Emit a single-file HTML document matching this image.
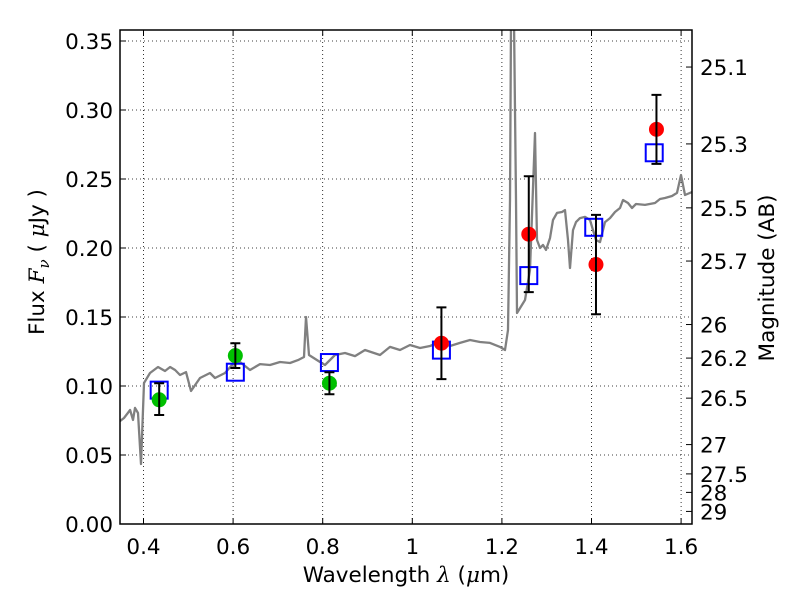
<!DOCTYPE html>
<html><head><meta charset="utf-8"><style>
body{margin:0;background:#fff;}
svg text{font-family:"DejaVu Sans","Liberation Sans",sans-serif;}
.m{font-family:"DejaVu Serif","Liberation Serif",serif;font-style:italic;}
</style></head><body>
<svg id="chart" width="800" height="600" xmlns="http://www.w3.org/2000/svg">
<defs><clipPath id="clip"><rect x="120" y="30" width="572" height="494"/></clipPath></defs>
<rect width="800" height="600" fill="#fff"/>
<g id="grid"></g>
<g id="spec" clip-path="url(#clip)"></g>
<g id="pts"></g>
<rect x="120" y="30" width="572" height="494" fill="none" stroke="#000" stroke-width="1.5"/>
<g id="axes"></g>
<text x="406" y="582" font-size="21.5" text-anchor="middle">Wavelength  <tspan class="m">λ</tspan> (<tspan class="m">μ</tspan>m)</text>
<text transform="translate(44,262) rotate(-90)" font-size="21.5" text-anchor="middle">Flux  <tspan class="m">F</tspan><tspan class="m" font-size="15" dy="5">ν</tspan><tspan dy="-5">  ( </tspan><tspan class="m">μ</tspan>Jy )</text>
<text transform="translate(774,278) rotate(-90)" font-size="21.5" text-anchor="middle">Magnitude (AB)</text>
</svg>
<script>
const specLam=[0.3475,0.3565,0.370,0.3766,0.381,0.3877,0.3944,0.4011,0.4145,0.4324,0.448,0.4594,0.4705,0.4815,0.4949,0.506,0.5261,0.5484,0.5596,0.582,0.5975,0.6154,0.6377,0.66,0.6824,0.7047,0.727,0.7449,0.7583,0.7627,0.7694,0.794,0.8051,0.8275,0.8498,0.8721,0.8944,0.9279,0.9502,0.9725,0.9949,1.0172,1.0395,1.0618,1.0842,1.1065,1.1288,1.1511,1.1734,1.1958,1.2069,1.2136,1.2181,1.2203,1.227,1.2315,1.2338,1.2516,1.2628,1.2739,1.2784,1.2851,1.2918,1.2985,1.3074,1.3141,1.323,1.3342,1.3408,1.3475,1.352,1.3587,1.3654,1.3743,1.3855,1.3967,1.4034,1.41,1.419,1.4301,1.4413,1.4525,1.4637,1.4704,1.4815,1.4904,1.4993,1.5194,1.5417,1.5529,1.5641,1.5797,1.5908,1.5998,1.6087,1.6243];
const specFlux=[0.0746,0.0768,0.0826,0.0754,0.0841,0.0804,0.0435,0.1022,0.1094,0.1138,0.1109,0.1138,0.1116,0.108,0.1101,0.0964,0.1058,0.1094,0.1058,0.1094,0.1152,0.1174,0.1116,0.1159,0.1152,0.1174,0.1167,0.1188,0.121,0.150,0.1225,0.1174,0.1152,0.1225,0.1239,0.1217,0.1261,0.1225,0.1283,0.1261,0.1297,0.1275,0.129,0.1319,0.129,0.1312,0.1333,0.1319,0.1312,0.1283,0.1261,0.1406,0.2348,0.365,0.365,0.2348,0.1529,0.1623,0.1841,0.2833,0.2058,0.2,0.2022,0.1986,0.2072,0.2203,0.2254,0.2261,0.2275,0.2058,0.1855,0.213,0.2188,0.2217,0.2225,0.2203,0.213,0.2058,0.2043,0.2188,0.2217,0.2261,0.229,0.2348,0.2326,0.229,0.2319,0.2312,0.2326,0.2355,0.2362,0.2377,0.2399,0.2529,0.2384,0.2406];
const obsLam=[0.435,0.605,0.815,1.065,1.26,1.41,1.545];
const obsFlux=[0.090,0.122,0.102,0.131,0.210,0.188,0.286];
const obsLo=[0.079,0.113,0.094,0.105,0.168,0.152,0.261];
const obsHi=[0.102,0.131,0.110,0.157,0.252,0.224,0.311];
const obsColor=["#00c000","#00c000","#00c000","#ff0000","#ff0000","#ff0000","#ff0000"];
const modLam=[0.435,0.605,0.815,1.065,1.26,1.405,1.54];
const modFlux=[0.097,0.110,0.117,0.126,0.180,0.215,0.269];
const xTicks=[0.4,0.6,0.8,1.0,1.2,1.4,1.6];
const xTickLabels=["0.4","0.6","0.8","1","1.2","1.4","1.6"];
const yTicks=[0,0.05,0.10,0.15,0.20,0.25,0.30,0.35];
const yTickLabels=["0.00","0.05","0.10","0.15","0.20","0.25","0.30","0.35"];
const magTicks=[25.1,25.3,25.5,25.7,26,26.2,26.5,27,27.5,28,29];
const magTickLabels=["25.1","25.3","25.5","25.7","26","26.2","26.5","27","27.5","28","29"];

const NS="http://www.w3.org/2000/svg";
const X=v=>143.5+(v-0.4)*448;
const Y=v=>524-v*1380;
const magToFlux=m=>Math.pow(10,(23.9-m)/2.5);
function mk(tag,attrs,parent){const e=document.createElementNS(NS,tag);for(const k in attrs)e.setAttribute(k,attrs[k]);document.getElementById(parent).appendChild(e);return e;}

xTicks.forEach((t,i)=>{
  const g=mk('line',{x1:X(t),x2:X(t),y1:30,y2:524,stroke:'#000','stroke-width':0.8,'stroke-dasharray':'1,3'},'grid');
  
  
  const tk=mk('path',{d:`M${X(t)},524v-6M${X(t)},30v6`,stroke:'#000','stroke-width':1},'axes');
  
  
  const tx=mk('text',{x:X(t),y:554,'font-size':21.5,'text-anchor':'middle'},'axes');
  tx.textContent=xTickLabels[i];
  
  
});
yTicks.forEach((t,i)=>{
  const g=mk('line',{x1:120,x2:692,y1:Y(t),y2:Y(t),stroke:'#000','stroke-width':0.8,'stroke-dasharray':'1,3'},'grid');
  
  
  const tk=mk('path',{d:`M120,${Y(t)}h6`,stroke:'#000','stroke-width':1},'axes');
  
  
  const tx=mk('text',{x:113,y:Y(t)+8,'font-size':21.5,'text-anchor':'end'},'axes');
  tx.textContent=yTickLabels[i];
  
  
});
magTicks.forEach((m,i)=>{
  const y=Y(magToFlux(m));
  const tk=mk('path',{d:`M692,${y}h-6`,stroke:'#000','stroke-width':1},'axes');
  
  
  const tx=mk('text',{x:700,y:y+8,'font-size':21.5,'text-anchor':'start'},'axes');
  tx.textContent=magTickLabels[i];
  
  
});
const d=specLam.map((l,i)=>(i?'L':'M')+X(l).toFixed(1)+','+Y(specFlux[i]).toFixed(1)).join('');
const sp=mk('path',{d:d,fill:'none',stroke:'#808080','stroke-width':2.3,'stroke-linejoin':'round'},'spec');


modLam.forEach((l,i)=>{
  const r=mk('rect',{x:X(l)-8.5,y:Y(modFlux[i])-8.5,width:17,height:17,fill:'none',stroke:'#0000ff','stroke-width':2},'pts');
  
  
});
obsLam.forEach((l,i)=>{
  const x=X(l);
  const c=mk('circle',{cx:x,cy:Y(obsFlux[i]),r:7.5,fill:obsColor[i]},'pts');
  
  
  const e=mk('path',{d:`M${x},${Y(obsLo[i])}V${Y(obsHi[i])}M${x-5},${Y(obsLo[i])}h10M${x-5},${Y(obsHi[i])}h10`,stroke:'#000','stroke-width':2},'pts');
  
  
});
</script>
</body></html>
